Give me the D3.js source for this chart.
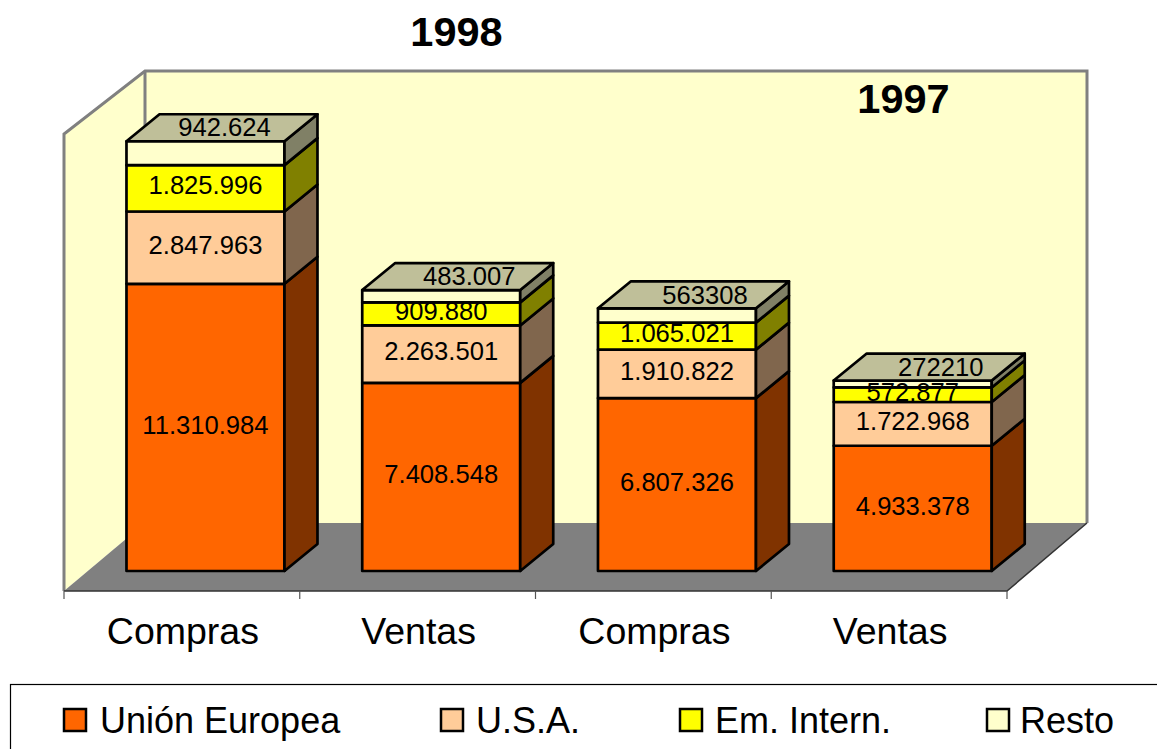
<!DOCTYPE html>
<html>
<head>
<meta charset="utf-8">
<script src="https://cdn.jsdelivr.net/npm/d3@7"></script>
<style>
  body { margin: 0; background: #fff; overflow: hidden; }
  text { font-family: "Liberation Sans", Arial, sans-serif; fill: #000; }
</style>
</head>
<body>
<script>
const width = 1157;
const height = 749;

const categories = ['Compras', 'Ventas', 'Compras', 'Ventas'];
const seriesNames = ['Unión Europea', 'U.S.A.', 'Em. Intern.', 'Resto'];
const unionEuropea = [11310984, 7408548, 6807326, 4933378];
const usa = [2847963, 2263501, 1910822, 1722968];
const emIntern = [1825996, 909880, 1065021, 572877];
const resto = [942624, 483007, 563308, 272210];
const labelText = [
  ['11.310.984', '7.408.548', '6.807.326', '4.933.378'],
  ['2.847.963', '2.263.501', '1.910.822', '1.722.968'],
  ['1.825.996', '909.880', '1.065.021', '572.877'],
  ['942.624', '483.007', '563308', '272210']
];

const frontColors = ['#FF6600', '#FFCC99', '#FFFF00', '#FFFFCC'];
const sideColors = ['#803300', '#80664D', '#808000', '#808066'];
const topColor = '#BFBF99';

const rows = categories.map((c, i) => ({
  i,
  0: unionEuropea[i],
  1: usa[i],
  2: emIntern[i],
  3: resto[i]
}));
const stacked = d3.stack().keys([0, 1, 2, 3])(rows);

const svg = d3.select('body').append('svg')
  .attr('width', width)
  .attr('height', height);

// floor front edge and bar baseline sit on different depth planes
const x = d3.scaleBand().domain(d3.range(categories.length)).range([64, 1007]);
const y = d3.scaleLinear().domain([0, 18000000]).range([571, 114]);

const barWidth = 158;
const barShift = 23.6;
const depthX = 33;
const depthY = -27;
const barLeft = i => x(i) + x.bandwidth() / 2 + barShift - barWidth / 2;

const wallTop = 71;
const wallBottom = 523;
const wallX = 145;
const floorY = 591;
const gray = '#808080';

// walls
svg.append('polygon')
  .attr('points', `${wallX},${wallTop} 1087,${wallTop} 1087,${wallBottom} ${wallX},${wallBottom}`)
  .attr('fill', '#FFFFCC');
svg.append('polygon')
  .attr('points', `64,134 ${wallX},${wallTop} ${wallX},${wallBottom} 64,${floorY}`)
  .attr('fill', '#FFFFCC');
svg.append('polygon')
  .attr('points', `64,${floorY} ${wallX},${wallBottom} 1087,${wallBottom} 1007,${floorY}`)
  .attr('fill', gray);
svg.append('path')
  .attr('d', `M64,${floorY}V134L${wallX},${wallTop}H1087V${wallBottom}`)
  .attr('fill', 'none')
  .attr('stroke', gray)
  .attr('stroke-width', 3);
svg.append('line')
  .attr('x1', wallX).attr('x2', wallX)
  .attr('y1', wallTop).attr('y2', wallBottom)
  .attr('stroke', gray)
  .attr('stroke-width', 3);
svg.append('path')
  .attr('d', `M1087,${wallBottom}L1007,${floorY}H64`)
  .attr('fill', 'none')
  .attr('stroke', '#333')
  .attr('stroke-width', 1.5);

// category axis
const axis = svg.append('g')
  .attr('transform', `translate(0,${floorY})`);
axis.selectAll('line')
  .data([...d3.range(categories.length).map(i => x(i)), 1007])
  .enter().append('line')
  .attr('x1', d => d).attr('x2', d => d)
  .attr('y1', 0).attr('y2', 8)
  .attr('stroke', '#555')
  .attr('stroke-width', 1.2);
axis.selectAll('text')
  .data(categories)
  .enter().append('text')
  .attr('x', (d, i) => x(i) + x.bandwidth() / 2 + 1)
  .attr('y', 53)
  .attr('text-anchor', 'middle')
  .attr('font-size', 37.5)
  .text(d => d);

// bars, bottom segment first so the tops overlap correctly
const bars = svg.append('g')
  .attr('stroke', '#000')
  .attr('stroke-width', 2.7)
  .attr('stroke-linejoin', 'round');

stacked.forEach((s, k) => {
  const seg = bars.append('g').selectAll('g')
    .data(s)
    .enter().append('g');

  seg.append('rect')
    .attr('x', (d, i) => barLeft(i))
    .attr('y', d => y(d[1]))
    .attr('width', barWidth)
    .attr('height', d => y(d[0]) - y(d[1]))
    .attr('fill', frontColors[k]);

  seg.append('polygon')
    .attr('points', (d, i) => {
      const r = barLeft(i) + barWidth;
      return [
        [r, y(d[0])],
        [r + depthX, y(d[0]) + depthY],
        [r + depthX, y(d[1]) + depthY],
        [r, y(d[1])]
      ].join(' ');
    })
    .attr('fill', sideColors[k]);

  if (k === stacked.length - 1) {
    seg.append('polygon')
      .attr('points', (d, i) => {
        const l = barLeft(i);
        return [
          [l, y(d[1])],
          [l + depthX, y(d[1]) + depthY],
          [l + barWidth + depthX, y(d[1]) + depthY],
          [l + barWidth, y(d[1])]
        ].join(' ');
      })
      .attr('fill', topColor);
  }
});

// value labels
stacked.forEach((s, k) => {
  const isTop = k === stacked.length - 1;
  svg.append('g').selectAll('text')
    .data(s)
    .enter().append('text')
    .attr('x', (d, i) => barLeft(i) + barWidth / 2 + (isTop ? (i === 0 ? 19 : 28) : 0))
    .attr('y', d => isTop ? y(d[1]) - 15 : (y(d[0]) + y(d[1])) / 2)
    .attr('dy', isTop ? '0.4em' : '0.24em')
    .attr('text-anchor', 'middle')
    .attr('font-size', 25.6)
    .text((d, i) => labelText[k][i]);
});

// titles
svg.append('text')
  .attr('x', 456.5).attr('y', 46)
  .attr('text-anchor', 'middle')
  .attr('font-size', 41.5)
  .attr('font-weight', 'bold')
  .text('1998');
svg.append('text')
  .attr('x', 903.5).attr('y', 113)
  .attr('text-anchor', 'middle')
  .attr('font-size', 41.5)
  .attr('font-weight', 'bold')
  .text('1997');

// legend
svg.append('rect')
  .attr('x', 10.5).attr('y', 684.5)
  .attr('width', 1160).attr('height', 80)
  .attr('fill', '#fff')
  .attr('stroke', '#000')
  .attr('stroke-width', 1.2);

const legendX = [64, 441, 680, 987];
const legendTextX = [36, 35, 35, 33];
const legend = svg.append('g').selectAll('g')
  .data(seriesNames)
  .enter().append('g')
  .attr('transform', (d, i) => `translate(${legendX[i]},709)`);
legend.append('rect')
  .attr('width', 22).attr('height', 22)
  .attr('fill', (d, i) => frontColors[i])
  .attr('stroke', '#000')
  .attr('stroke-width', 2.5);
legend.append('text')
  .attr('x', (d, i) => legendTextX[i]).attr('y', 24)
  .attr('font-size', 36)
  .text(d => d);
</script>
</body>
</html>
